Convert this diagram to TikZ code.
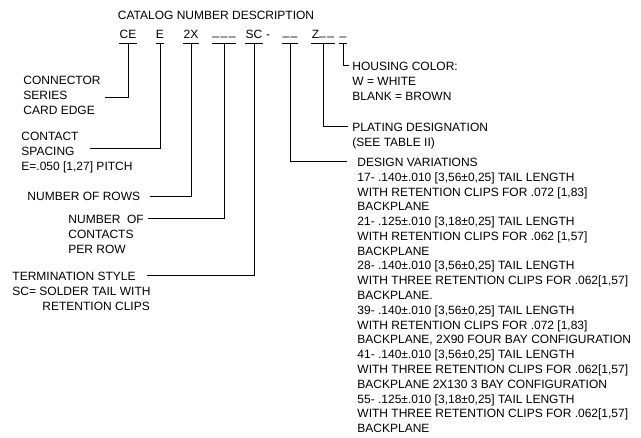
\documentclass[tikz,border=0pt]{standalone}
\usepackage{fontspec}
\setmainfont{Liberation Sans}
\newcommand\uscore{\raisebox{2.5pt}{\_}}
\begin{document}
\begin{tikzpicture}[x=1pt, y=-1pt, line width=0.9pt,
  font=\fontsize{12}{15}\selectfont,
  field/.style={anchor=base, inner sep=0pt},
  desc/.style={anchor=north west, inner sep=0pt, align=left}]
\useasboundingbox (0,0) rectangle (641,438);
\node[anchor=base] (title) at (216,19.3) {CATALOG NUMBER DESCRIPTION};
% catalog number fields
\node[field] (ce) at (128,38.3) {CE};
\node[field] (sp) at (160,38.3) {E};
\node[field] (rows) at (191,38.3) {2X};
\node[field] (cnt) at (224,38.3) {\uscore\kern1.5pt\uscore\kern1.5pt\uscore};
\node[field] (term) at (254,38.3) {SC};
\node[field] (dash) at (268,38.3) {-};
\node[field] (var) at (290,38.3) {\uscore\kern1.5pt\uscore};
\node[field] (plat) at (323,38.3) {Z\uscore\kern1.5pt\uscore};
\node[field] (col) at (343,38.3) {\uscore};
% descriptions
\node[desc] (ce-d) at (23,75.7) {CONNECTOR\\SERIES\\CARD EDGE};
\node[desc] (sp-d) at (21,131.7) {CONTACT\\SPACING\\E=.050 [1,27] PITCH};
\node[anchor=base west, inner sep=0pt] (rows-d) at (27,200.3) {NUMBER OF ROWS};
\node[desc] (cnt-d) at (68,214.7) {NUMBER \ OF\\CONTACTS\\PER ROW};
\node[desc] (term-d) at (12,271.7) {TERMINATION STYLE\\SC= SOLDER TAIL WITH\\\hspace*{30pt}RETENTION CLIPS};
\node[desc] (col-d) at (352,61.7) {HOUSING COLOR:\\W = WHITE\\BLANK = BROWN};
\node[desc] (plat-d) at (352,122.7) {PLATING DESIGNATION\\(SEE TABLE II)};
\node[desc, font=\fontsize{12}{14.78}\selectfont] (var-d) at (357,157.7) {DESIGN VARIATIONS\\
17- .140±.010 [3,56±0,25] TAIL LENGTH\\
WITH RETENTION CLIPS FOR .072 [1,83]\\
BACKPLANE\\
21- .125±.010 [3,18±0,25] TAIL LENGTH\\
WITH RETENTION CLIPS FOR .062 [1,57]\\
BACKPLANE\\
28- .140±.010 [3,56±0,25] TAIL LENGTH\\
WITH THREE RETENTION CLIPS FOR .062[1,57]\\
BACKPLANE.\\
39- .140±.010 [3,56±0,25] TAIL LENGTH\\
WITH RETENTION CLIPS FOR .072 [1,83]\\
BACKPLANE, 2X90 FOUR BAY CONFIGURATION\\
41- .140±.010 [3,56±0,25] TAIL LENGTH\\
WITH THREE RETENTION CLIPS FOR .062[1,57]\\
BACKPLANE 2X130 3 BAY CONFIGURATION\\
55- .125±.010 [3,18±0,25] TAIL LENGTH\\
WITH THREE RETENTION CLIPS FOR .062[1,57]\\
BACKPLANE};
% leader ends
\coordinate (bar) at (0,43);
\coordinate (ce-e) at (105,97);
\coordinate (sp-e) at (90,148);
\coordinate (rows-e) at (150,196);
\coordinate (cnt-e) at (148,218);
\coordinate (term-e) at (147,275);
\coordinate (var-e) at (347,161);
\coordinate (plat-e) at (348,126);
\coordinate (col-e) at (349,65);
\foreach \f in {ce,sp,rows,cnt,term,var,plat,col}{
  \draw (\f.west |- bar) -- (\f.east |- bar);
  \draw (\f |- bar) |- (\f-e);
}
\end{tikzpicture}
\end{document}
